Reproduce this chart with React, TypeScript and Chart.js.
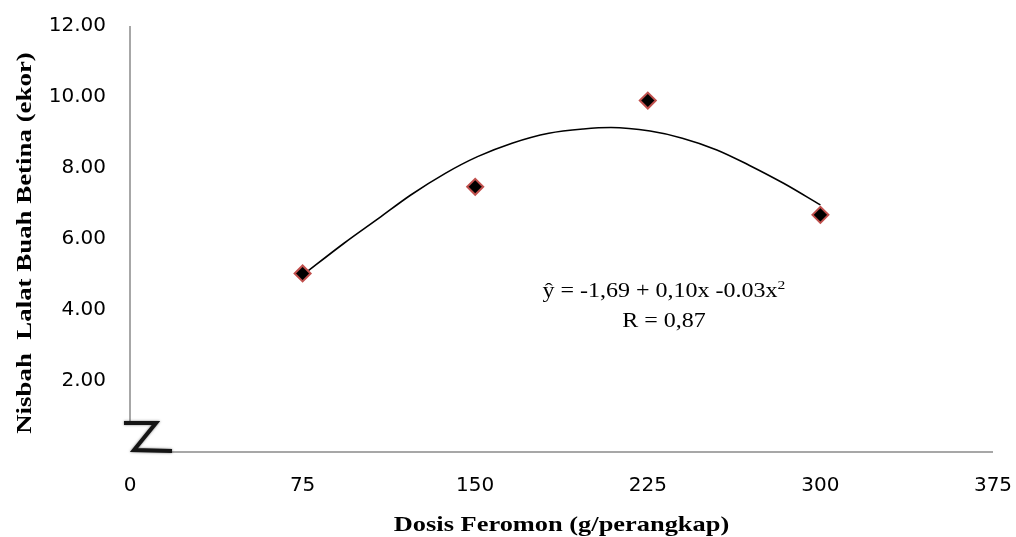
import React, { useEffect, useRef } from "react";
import { Chart, registerables } from "chart.js";

Chart.register(...registerables);

// Observed data (dose in g/trap, female fruit fly ratio)
const doses = [75, 150, 225, 300];
const femaleFlies = [5.03, 7.47, 9.9, 6.68];

// Polynomial trendline
const trendX = [75, 93, 108, 122, 137, 151, 166, 182, 197, 209, 226, 240, 255, 269, 284, 300];
const trendY = [4.98, 5.88, 6.58, 7.24, 7.85, 8.32, 8.7, 8.98, 9.1, 9.14, 9.04, 8.84, 8.51, 8.08, 7.57, 6.96];

// Axis ticks
const xTicks = [0, 75, 150, 225, 300, 375];
const yTicks = [0, 2, 4, 6, 8, 10, 12];

const xTitle = "Dosis Feromon (g/perangkap)";
const yTitle = "Nisbah  Lalat Buah Betina (ekor)";
const equationMain = "ŷ = -1,69 + 0,10x -0.03x";
const equationSup = "2";
const equationR = "R = 0,87";
const equationAnchor = { x: 232, y: [4.37, 3.52] };

const axisColor = "#8a8a8a";
const serif = "'Liberation Serif', 'Times New Roman', serif";

function stretchedText(ctx: any, text: string, x: number, y: number, sx: number) {
  ctx.save();
  ctx.translate(x, y);
  ctx.scale(sx, 1);
  ctx.fillText(text, 0, 0);
  ctx.restore();
}

const decorPlugin = {
  id: "decor",
  beforeDatasetsDraw(chart: any) {
    const { ctx, chartArea, scales } = chart;
    const L = chartArea.left;
    const B = chartArea.bottom;
    const xs = scales.x;
    const ys = scales.y;
    ctx.save();
    ctx.strokeStyle = axisColor;
    ctx.lineWidth = 1.5;
    // y axis line (stops above the break)
    ctx.beginPath();
    ctx.moveTo(L, ys.getPixelForValue(12));
    ctx.lineTo(L, B - 30);
    ctx.stroke();
    // x axis line (starts after the break)
    ctx.beginPath();
    ctx.moveTo(L + 40, B);
    ctx.lineTo(xs.getPixelForValue(375), B);
    ctx.stroke();
    // axis break "Z" mark
    ctx.strokeStyle = "#151515";
    ctx.lineWidth = 4;
    ctx.lineJoin = "miter";
    ctx.lineCap = "butt";
    ctx.shadowColor = "rgba(0,0,0,0.55)";
    ctx.shadowBlur = 2.5;
    ctx.beginPath();
    ctx.moveTo(L - 6, B - 29);
    ctx.lineTo(L + 26, B - 29);
    ctx.lineTo(L + 4, B - 2);
    ctx.lineTo(L + 42, B - 1);
    ctx.stroke();
    ctx.restore();
  },
  afterDraw(chart: any) {
    const { ctx, scales, chartArea } = chart;
    ctx.save();
    ctx.fillStyle = "#000";
    ctx.textBaseline = "alphabetic";

    // regression equation
    const sx = 1.2;
    ctx.font = `20px ${serif}`;
    const wMain = ctx.measureText(equationMain).width;
    ctx.font = `13px ${serif}`;
    const wSup = ctx.measureText(equationSup).width;
    const cx = scales.x.getPixelForValue(equationAnchor.x);
    const y1 = scales.y.getPixelForValue(equationAnchor.y[0]);
    const total = (wMain + wSup) * sx;
    const left = cx - total / 2;
    ctx.textAlign = "left";
    ctx.font = `20px ${serif}`;
    stretchedText(ctx, equationMain, left, y1, sx);
    ctx.font = `13px ${serif}`;
    stretchedText(ctx, equationSup, left + wMain * sx, y1 - 8, sx);
    ctx.font = `20px ${serif}`;
    ctx.textAlign = "center";
    stretchedText(ctx, equationR, cx, scales.y.getPixelForValue(equationAnchor.y[1]), sx);

    // axis titles
    ctx.font = `bold 22px ${serif}`;
    ctx.textAlign = "center";
    stretchedText(ctx, xTitle, (chartArea.left + chartArea.right) / 2, 531, 1.2);

    ctx.save();
    ctx.translate(31, (chartArea.top + chartArea.bottom) / 2 + 4);
    ctx.rotate(-Math.PI / 2);
    ctx.scale(1.28, 1);
    ctx.font = `bold 21px ${serif}`;
    ctx.fillText(yTitle, 0, 0);
    ctx.restore();

    ctx.restore();
  },
};

export default function App() {
  const ref = useRef<HTMLCanvasElement>(null);
  useEffect(() => {
    document.body.style.margin = "0";
    const canvas = ref.current!;
    const chart = new Chart(canvas, {
      type: "scatter",
      data: {
        datasets: [
          {
            label: "Observed",
            data: doses.map((d, i) => ({ x: d, y: femaleFlies[i] })),
            pointStyle: "rectRot",
            pointRadius: 8,
            pointHoverRadius: 8,
            backgroundColor: "#000000",
            borderColor: "#C0504D",
            borderWidth: 2,
            showLine: false,
          },
          {
            label: "Trend",
            data: trendX.map((d, i) => ({ x: d, y: trendY[i] })),
            showLine: true,
            pointRadius: 0,
            borderColor: "#000000",
            borderWidth: 1.6,
            cubicInterpolationMode: "monotone",
            fill: false,
          },
        ],
      },
      options: {
        responsive: false,
        animation: false,
        layout: { padding: { left: 0, right: 23, top: 26, bottom: 0 } },
        plugins: {
          legend: { display: false },
          tooltip: { enabled: false },
        },
        scales: {
          x: {
            type: "linear",
            min: 0,
            max: 375,
            afterBuildTicks: (s: any) => {
              s.ticks = xTicks.map((v) => ({ value: v }));
            },
            afterFit: (s: any) => {
              s.height = 85;
              s.paddingLeft = 0;
              s.paddingRight = 0;
            },
            grid: { display: false, drawTicks: false },
            border: { display: false },
            ticks: {
              color: "#000",
              padding: 22,
              maxRotation: 0,
              autoSkip: false,
              font: { family: "'DejaVu Sans', sans-serif", size: 20 },
            },
            title: { display: false, text: xTitle },
          },
          y: {
            type: "linear",
            min: 0,
            max: 12,
            afterBuildTicks: (s: any) => {
              s.ticks = yTicks.map((v) => ({ value: v }));
            },
            afterFit: (s: any) => {
              s.width = 130;
              s.paddingTop = 0;
              s.paddingBottom = 0;
            },
            grid: { display: false, drawTicks: false },
            border: { display: false },
            ticks: {
              color: "#000",
              padding: 24,
              font: { family: "'DejaVu Sans', sans-serif", size: 20 },
              callback: (v: any) => (Number(v) === 0 ? "" : Number(v).toFixed(2)),
            },
            title: { display: false, text: yTitle },
          },
        },
      },
      plugins: [decorPlugin],
    } as any);
    return () => chart.destroy();
  }, []);
  return (
    <div style={{ width: 1016, height: 537 }}>
      <canvas ref={ref} width={1016} height={537} style={{ width: 1016, height: 537, display: "block" }} />
    </div>
  );
}
